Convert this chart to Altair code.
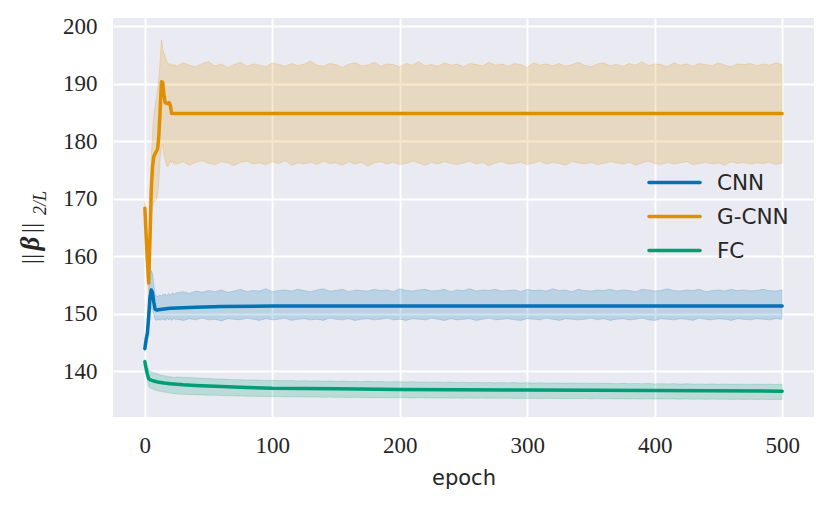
import altair as alt
import pandas as pd

models = ["CNN", "G-CNN", "FC"]
colors = ["#0173b2", "#de8f05", "#029e73"]

# ---- mean curves (epochs where the value was read) ----
cnn_epochs = [0, 1, 2, 3, 4, 5, 6, 7, 8, 9, 10, 11, 12, 15, 20, 30, 40, 60, 100, 200, 300, 400, 500]
cnn_mean = [143.9, 145.5, 146.6, 149.5, 152.8, 154.1, 153.6, 152.0, 150.8, 150.6, 150.6, 150.7, 150.7,
            150.8, 150.9, 151.0, 151.1, 151.2, 151.3, 151.3, 151.3, 151.3, 151.3]

gcnn_epochs = [0, 1, 2, 3, 4, 5, 6, 7, 8, 9, 10, 11, 12, 13, 14, 15, 16, 17, 18, 19, 20, 21,
               100, 200, 300, 400, 500]
gcnn_mean = [168.3, 163.5, 159.0, 155.3, 163.0, 171.5, 175.5, 177.3, 177.8, 178.2, 178.6, 181.0,
             185.5, 190.3, 190.2, 188.0, 186.6, 186.6, 186.5, 186.7, 186.2, 184.8,
             184.8, 184.8, 184.8, 184.8, 184.8]

fc_epochs = [0, 1, 2, 3, 4, 5, 7, 10, 15, 20, 30, 40, 50, 60, 80, 100, 150, 200, 300, 400, 500]
fc_mean = [141.6, 140.4, 139.4, 138.7, 138.5, 138.4, 138.25, 138.1, 137.9, 137.8, 137.6, 137.5,
           137.4, 137.3, 137.15, 137.0, 136.9, 136.8, 136.7, 136.6, 136.5]

# ---- confidence bands ----
band_epochs = list(range(0, 25)) + list(range(25, 501, 5))

gcnn_hi = [169.4, 166.5, 162.0, 158.5, 167.5, 177.0, 181.5, 184.5, 186.0, 187.5, 189.0, 191.0, 194.0,
           197.6, 196.0, 195.3, 194.8, 194.0, 193.6, 193.2, 193.5, 193.1, 193.4, 192.9, 193.3,
           193.0, 193.6, 193.2, 192.9, 193.5, 193.8, 193.1, 193.4, 192.8, 193.3,
           193.7, 193.0, 193.4, 193.2, 192.9, 193.6, 193.3, 193.0, 193.5, 193.1,
           193.4, 193.9, 193.2, 193.0, 193.5, 193.3, 192.8, 193.4, 193.6, 193.1,
           193.2, 193.7, 193.0, 193.4, 193.3, 192.9, 193.5, 193.2, 193.8, 193.1,
           193.3, 193.0, 193.6, 193.2, 193.4, 192.9, 193.5, 193.3, 193.1, 193.7,
           193.2, 193.4, 193.0, 193.5, 193.3, 192.8, 193.6, 193.2, 193.4, 193.1,
           193.5, 193.0, 193.3, 193.7, 193.2, 192.9, 193.4, 193.6, 193.1, 193.3,
           193.0, 193.5, 193.2, 193.8, 193.1, 193.4, 193.3, 192.9, 193.6, 193.2,
           193.4, 193.0, 193.5, 193.3, 193.1, 193.6, 193.2, 192.9, 193.4, 193.3,
           193.5, 193.1, 193.4, 193.2, 193.6, 193.3]
gcnn_lo = [167.5, 162.0, 157.0, 153.5, 158.0, 165.0, 168.5, 169.5, 169.5, 169.8, 170.5, 173.0, 177.0,
           179.0, 179.5, 177.5, 176.5, 175.8, 175.5, 176.0, 176.6, 176.2, 176.5, 175.9, 176.3,
           176.0, 176.4, 175.8, 176.3, 176.6, 176.1, 175.9, 176.4, 176.2, 175.7,
           176.3, 176.5, 176.0, 176.2, 175.9, 176.4, 176.1, 176.6, 175.8, 176.2,
           176.0, 176.3, 175.9, 176.5, 176.1, 176.2, 175.8, 176.4, 176.0, 176.3,
           175.6, 176.2, 176.4, 176.0, 176.3, 175.9, 176.1, 176.5, 176.2, 175.8,
           176.3, 176.0, 176.4, 176.1, 175.9, 176.2, 176.5, 176.0, 176.3, 175.7,
           176.2, 176.4, 176.0, 176.1, 176.3, 175.9, 176.2, 176.5, 176.0, 176.3,
           176.1, 175.8, 176.4, 176.2, 176.0, 176.3, 175.9, 176.1, 176.4, 176.2,
           176.0, 176.3, 175.8, 176.2, 176.5, 176.1, 175.9, 176.3, 176.0, 176.2,
           176.4, 175.9, 176.1, 176.3, 176.0, 176.2, 175.8, 176.4, 176.1, 176.3,
           176.0, 176.2, 176.1, 176.3, 175.9, 176.2]

cnn_hi = [144.4, 146.5, 148.0, 151.5, 156.0, 157.5, 157.0, 155.0, 153.3, 153.0, 153.0, 153.1, 153.2,
          153.0, 153.3, 153.2, 153.4, 153.1, 153.3, 153.5, 153.2, 153.4, 153.6, 153.3, 153.5,
          153.6, 153.8, 153.5, 153.9, 153.7, 154.0, 153.8, 154.1, 153.7, 153.9,
          154.2, 153.8, 154.0, 153.9, 154.3, 153.8, 154.0, 154.1, 153.9, 154.2,
          154.0, 153.8, 154.1, 154.3, 153.9, 154.0, 154.2, 153.8, 154.1, 154.0,
          153.9, 154.2, 154.0, 154.1, 153.8, 154.3, 154.0, 153.9, 154.1, 154.2,
          153.9, 154.0, 154.2, 153.8, 154.1, 154.0, 154.3, 153.9, 154.1, 154.0,
          154.2, 153.9, 154.0, 154.1, 153.8, 154.2, 154.0, 154.1, 153.9, 154.3,
          154.0, 154.1, 153.8, 154.2, 154.0, 153.9, 154.1, 154.0, 154.2, 153.9,
          154.1, 154.0, 153.8, 154.2, 154.1, 153.9, 154.0, 154.3, 154.0, 153.9,
          154.1, 154.0, 154.2, 153.8, 154.0, 154.1, 153.9, 154.2, 154.0, 154.1,
          153.9, 154.0, 154.2, 154.0, 153.9, 154.1]
cnn_lo = [143.4, 144.5, 145.3, 147.5, 149.6, 151.0, 150.8, 149.8, 149.0, 148.8, 148.9, 149.0, 148.8,
          149.1, 148.9, 149.0, 148.8, 149.1, 149.0, 148.9, 149.1, 148.8, 149.0, 149.1, 148.9,
          149.0, 148.8, 149.1, 148.9, 149.2, 148.9, 149.0, 148.7, 149.1, 149.0,
          148.9, 149.2, 149.0, 148.8, 149.1, 148.9, 149.0, 149.2, 148.8, 149.0,
          149.1, 148.9, 149.0, 148.8, 149.2, 149.0, 148.9, 149.1, 148.8, 149.0,
          149.1, 148.9, 149.0, 149.2, 148.9, 149.0, 148.8, 149.1, 149.0, 148.9,
          149.2, 149.0, 148.8, 149.1, 148.9, 149.0, 149.1, 148.8, 149.0, 149.2,
          148.9, 149.0, 149.1, 148.9, 148.8, 149.1, 149.0, 148.9, 149.2, 149.0,
          148.8, 149.1, 149.0, 148.9, 149.0, 149.2, 148.9, 149.1, 148.8, 149.0,
          149.1, 148.9, 149.0, 149.2, 148.9, 148.8, 149.1, 149.0, 148.9, 149.1,
          149.0, 148.8, 149.2, 149.0, 148.9, 149.1, 149.0, 148.8, 149.1, 149.0,
          148.9, 149.1, 149.0, 148.9, 149.1, 149.0]

fc_hi = [142.0, 141.4, 140.7, 140.2, 140.0, 139.9, 139.8, 139.7, 139.6, 139.5, 139.5, 139.4, 139.3,
         139.3, 139.2, 139.2, 139.1, 139.1, 139.1, 139.0, 139.0, 139.0, 138.9, 138.9, 138.9,
         138.95, 138.9, 138.85, 138.8, 138.72, 138.7, 138.63, 138.6, 138.55, 138.5,
         138.48, 138.45, 138.4, 138.42, 138.35, 138.38, 138.33, 138.3, 138.34, 138.28,
         138.3, 138.25, 138.29, 138.22, 138.26, 138.2, 138.24, 138.18, 138.22, 138.15,
         138.2, 138.14, 138.18, 138.1, 138.15, 138.12, 138.08, 138.14, 138.06, 138.1,
         138.05, 138.1, 138.02, 138.07, 138.0, 138.05, 137.98, 138.03, 137.96, 138.01,
         137.95, 138.0, 137.93, 137.98, 137.92, 137.96, 137.9, 137.95, 137.88, 137.93,
         137.9, 137.86, 137.92, 137.85, 137.89, 137.83, 137.88, 137.82, 137.86, 137.8,
         137.85, 137.79, 137.84, 137.78, 137.82, 137.76, 137.8, 137.75, 137.79, 137.73,
         137.78, 137.72, 137.76, 137.7, 137.75, 137.69, 137.74, 137.68, 137.72, 137.7,
         137.67, 137.72, 137.66, 137.7, 137.65, 137.7]
fc_lo = [141.2, 139.6, 138.3, 137.3, 137.1, 137.0, 136.9, 136.8, 136.7, 136.6, 136.6, 136.5, 136.5,
         136.4, 136.4, 136.3, 136.3, 136.3, 136.2, 136.2, 136.2, 136.1, 136.1, 136.1, 136.0,
         136.0, 135.95, 135.92, 135.88, 135.83, 135.8, 135.77, 135.74, 135.7, 135.68,
         135.65, 135.62, 135.6, 135.57, 135.55, 135.53, 135.55, 135.5, 135.52, 135.48,
         135.5, 135.46, 135.48, 135.44, 135.46, 135.42, 135.44, 135.4, 135.43, 135.38,
         135.41, 135.37, 135.4, 135.35, 135.38, 135.34, 135.37, 135.32, 135.35, 135.31,
         135.34, 135.3, 135.33, 135.28, 135.32, 135.27, 135.3, 135.26, 135.29, 135.25,
         135.28, 135.24, 135.27, 135.23, 135.26, 135.22, 135.25, 135.21, 135.24, 135.2,
         135.23, 135.19, 135.22, 135.18, 135.21, 135.17, 135.2, 135.16, 135.19, 135.15,
         135.18, 135.14, 135.17, 135.13, 135.16, 135.12, 135.15, 135.11, 135.14, 135.1,
         135.13, 135.09, 135.12, 135.08, 135.11, 135.07, 135.1, 135.06, 135.09, 135.05,
         135.08, 135.04, 135.07, 135.03, 135.06, 135.05]

x_ticks = [0, 100, 200, 300, 400, 500]
y_ticks = [140, 150, 160, 170, 180, 190, 200]

# ---- tables ----
band_rows = []
for m, lo, hi in [("CNN", cnn_lo, cnn_hi), ("G-CNN", gcnn_lo, gcnn_hi), ("FC", fc_lo, fc_hi)]:
    for e, l, h in zip(band_epochs, lo, hi):
        band_rows.append({"model": m, "epoch": e, "lo": l, "hi": h})
band_df = pd.DataFrame(band_rows)

line_rows = []
for m, ep, vals in [("CNN", cnn_epochs, cnn_mean), ("G-CNN", gcnn_epochs, gcnn_mean), ("FC", fc_epochs, fc_mean)]:
    for e, v in zip(ep, vals):
        line_rows.append({"model": m, "epoch": e, "value": v})
line_df = pd.DataFrame(line_rows)

SERIF = "Liberation Serif"
SANS = "DejaVu Sans"
TXT = "#262626"
LW = 3.5

color_scale = alt.Scale(domain=models, range=colors)
x_scale = alt.Scale(domain=[-25, 525], nice=False, zero=False)
y_scale = alt.Scale(domain=[132.0, 201.4], nice=False, zero=False)

x_enc = alt.X("epoch:Q", scale=x_scale,
              axis=alt.Axis(values=x_ticks, title="epoch", labelFont=SERIF, labelFontSize=23,
                            labelPadding=17, titleFont=SANS, titleFontSize=21,
                            titleFontWeight="normal", titlePadding=10, labelFlush=False))

bands = alt.Chart(band_df).mark_area(fillOpacity=0.2, strokeOpacity=0.2, strokeWidth=1).encode(
    x=x_enc,
    y=alt.Y("lo:Q", scale=y_scale,
            axis=alt.Axis(values=y_ticks, title=None, labelFont=SERIF, labelFontSize=23,
                          labelPadding=16)),
    y2="hi:Q",
    color=alt.Color("model:N", scale=color_scale, legend=None),
    stroke=alt.Stroke("model:N", scale=color_scale, legend=None),
)

lines = alt.Chart(line_df).mark_line(strokeWidth=LW, strokeCap="round", strokeJoin="round").encode(
    x=alt.X("epoch:Q", scale=x_scale),
    y=alt.Y("value:Q", scale=y_scale),
    color=alt.Color("model:N", scale=color_scale, legend=None),
)

layers = [bands, lines]

# ---- legend (manual, no frame) ----
legend_rows_y = [164.5, 198.5, 232.5]
for m, c, ly in zip(models, colors, legend_rows_y):
    one = pd.DataFrame({"model": [m]})
    layers.append(alt.Chart(one).mark_rule(color=c, strokeWidth=LW, strokeCap="round").encode(
        x=alt.value(536), x2=alt.value(587), y=alt.value(ly)))
    layers.append(alt.Chart(one).mark_text(align="left", baseline="middle", font=SANS, fontSize=21.5,
                                           color=TXT).encode(
        x=alt.value(604), y=alt.value(ly + 1), text="model:N"))

# ---- y label ||beta||_{2/L} ----
layers.append(alt.Chart(pd.DataFrame({"t": ["||"]})).mark_text(
    angle=270, align="center", baseline="middle", font=SERIF, fontSize=26, color=TXT).encode(
    x=alt.value(-82), y=alt.value(241), text="t:N"))
layers.append(alt.Chart(pd.DataFrame({"t": ["||"]})).mark_text(
    angle=270, align="center", baseline="middle", font=SERIF, fontSize=26, color=TXT).encode(
    x=alt.value(-82), y=alt.value(210), text="t:N"))
layers.append(alt.Chart(pd.DataFrame({"t": ["β"]})).mark_text(
    angle=270, align="center", baseline="middle", font=SERIF, fontSize=27, fontStyle="italic",
    fontWeight="bold", color=TXT).encode(
    x=alt.value(-82), y=alt.value(225.5), text="t:N"))
layers.append(alt.Chart(pd.DataFrame({"t": ["2/L"]})).mark_text(
    angle=270, align="center", baseline="middle", font=SERIF, fontSize=18, fontStyle="italic",
    color=TXT).encode(
    x=alt.value(-72), y=alt.value(185), text="t:N"))

chart = alt.layer(*layers).properties(
    width=701, height=399,
    autosize=alt.AutoSizeParams(type="none"),
    padding={"left": 105, "top": 10, "right": 9, "bottom": 80},
).configure_view(fill="#EAEAF2", strokeWidth=0).configure_axis(
    grid=True, gridColor="white", gridWidth=1.8, domain=False, ticks=False,
    labelColor=TXT, titleColor=TXT,
)

chart.save("out.html", embed_options={"renderer": "svg", "actions": False})
